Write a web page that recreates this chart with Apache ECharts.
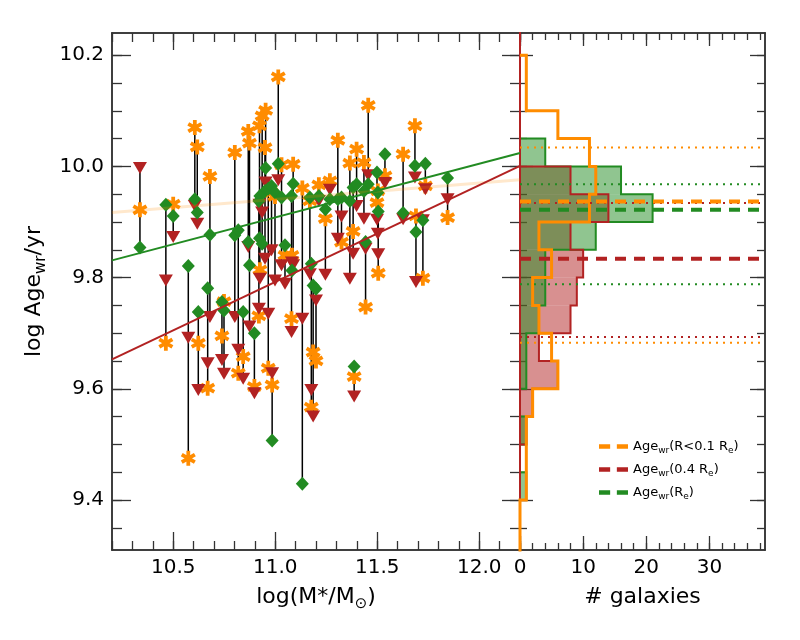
<!DOCTYPE html>
<html>
<head>
<meta charset="utf-8">
<script src="https://cdn.jsdelivr.net/npm/echarts@6/dist/echarts.min.js"></script>
<style>
  html, body { margin: 0; padding: 0; background: #fff; }
  #chart { width: 800px; height: 640px; }
</style>
</head>
<body>
<div id="chart"></div>
<script>
// one entry per galaxy: log stellar mass and light-weighted ages at three radii
const logMass = [10.337, 10.464, 10.500, 10.574, 10.606, 10.618, 10.623, 10.680, 10.669, 10.739,
  10.749, 10.802, 10.819, 10.843, 10.868, 10.874, 10.898, 10.923, 10.936, 10.953,
  10.950, 10.925, 10.920, 10.966, 10.985, 11.015, 10.982, 10.999, 11.031, 11.048,
  11.088, 11.082, 11.080, 11.133, 11.170, 11.177, 11.186, 11.200, 11.214, 11.246,
  11.268, 11.307, 11.325, 11.387, 11.382, 11.399, 11.366, 11.456, 11.435, 11.443,
  11.499, 11.505, 11.503, 11.538, 11.627, 11.685, 11.736, 11.690, 11.724, 11.845]
const ageCore = [9.922, 9.682, 9.932, 9.475, 10.070, 10.035, 9.682, 9.982, 9.601, 9.695,
  9.757, 10.025, 9.628, 9.658, 10.063, 10.042, 9.604, 10.073, 10.091, 10.101,
  10.034, 9.814, 9.731, 9.637, 9.607, 10.161, 9.953, 9.946, 10.003, 9.840,
  10.004, 9.840, 9.726, 9.961, 9.938, 9.567, 9.666, 9.650, 9.967, 9.906,
  9.974, 10.047, 9.864, 9.622, 9.883, 10.031, 10.006, 10.110, 10.007, 9.747,
  9.935, 9.808, 9.956, 9.983, 10.022, 10.073, 9.965, 9.911, 9.799, 9.908]
const ageMid = [9.997, 9.795, 9.873, 9.692, 9.929, 9.897, 9.598, 9.729, 9.646, 9.652,
  9.627, 9.729, 9.670, 9.618, 9.855, 9.712, 9.592, 9.931, 9.917, 9.971,
  9.834, 9.798, 9.744, 9.735, 9.628, 9.975, 9.849, 9.795, 9.822, 9.789,
  9.822, 9.827, 9.702, 9.726, 9.806, 9.598, 9.550, 9.759, 9.938, 9.805,
  9.958, 9.870, 9.910, 9.586, 9.843, 9.929, 9.798, 9.984, 9.906, 9.852,
  9.904, 9.842, 9.879, 9.970, 9.905, 9.980, 9.959, 9.792, 9.903, 9.941]
const ageRe = [9.854, 9.931, 9.911, 9.821, 9.941, 9.917, 9.738, 9.877, 9.781, 9.756,
  9.741, 9.876, 9.885, 9.738, 9.864, 9.822, 9.700, 9.871, 9.861, 9.997,
  9.956, 9.947, 9.938, 9.960, 9.507, 10.005, 9.965, 9.953, 9.944, 9.858,
  9.969, 9.813, 9.947, 9.429, 9.944, 9.825, 9.786, 9.780, 9.947, 9.923,
  9.941, 9.941, 9.944, 9.640, 9.962, 9.968, 9.938, 9.968, 9.956, 9.864,
  9.989, 9.919, 9.953, 10.022, 9.916, 10.001, 10.005, 9.882, 9.903, 9.979]

// linear fits, evaluated at the panel edges
const fitMass = [10.2, 12.2]
const fitCore = [9.917, 9.976]
const fitMid = [9.653, 10.001]
const fitRe = [9.831, 10.024]

// histograms (bin lower edges, width 0.05)
const BIN = 0.05
const binLow = [9.30, 9.35, 9.40, 9.45, 9.50, 9.55, 9.60, 9.65, 9.70, 9.75,
  9.80, 9.85, 9.90, 9.95, 10.00, 10.05, 10.10, 10.15, 10.20]
const histCore = [0, 0, 1, 1, 1, 2, 6, 5, 3, 2, 5, 3, 11, 12, 11, 6, 1, 1, 0]
const histMid = [0, 0, 0, 0, 1, 2, 6, 3, 8, 9, 10, 8, 14, 8, 0, 0, 0, 0, 0]
const histRe = [0, 0, 1, 0, 1, 0, 1, 1, 3, 4, 4, 12, 21, 16, 4, 0, 0, 0, 0]

// mean and spread marks
const meanCore = 9.937
const meanMid = 9.834
const meanRe = 9.922
const spreadCore = [9.683, 10.034]
const spreadMid = [9.693, 9.934]
const spreadRe = [9.788, 9.968]

// axes
const massRange = [10.2, 12.2]
const ageRange = [9.31, 10.24]
const countRange = [0, 38.8]
const massTicks = [10.5, 11.0, 11.5, 12.0]
const massMinor = [10.2, 10.3, 10.4, 10.5, 10.6, 10.7, 10.8, 10.9, 11.0, 11.1, 11.2,
  11.3, 11.4, 11.5, 11.6, 11.7, 11.8, 11.9, 12.0, 12.1, 12.2]
const ageTicks = [9.4, 9.6, 9.8, 10.0, 10.2]
const ageMinor = [9.35, 9.40, 9.45, 9.50, 9.55, 9.60, 9.65, 9.70, 9.75, 9.80,
  9.85, 9.90, 9.95, 10.00, 10.05, 10.10, 10.15, 10.20]
const countTicks = [0, 10, 20, 30]
const countMinor = [0, 2, 4, 6, 8, 10, 12, 14, 16, 18, 20, 22, 24, 26, 28, 30, 32, 34, 36, 38]

const ORANGE = '#ff8c00'
const RED = '#b22222'
const GREEN = '#228b22'
const INK = '#333'
const FONT = 'DejaVu Sans'

const ASTERISK = 'path://M7.5 0L12.5 0L12.5 20L7.5 20Z' +
  'M17.41 2.835L19.91 7.165L2.59 17.165L0.09 12.835Z' +
  'M0.09 7.165L2.59 2.835L19.91 12.835L17.41 17.165Z'

const subRich = {
  a: { fontSize: 22, fontFamily: FONT, color: '#000' },
  s: { fontSize: 15, fontFamily: FONT, color: '#000', padding: [14, 0, 0, 0] },
}

function frameAxis(grid, pos, range, ticks, len, extra) {
  return Object.assign({
    type: 'value', gridIndex: grid, position: pos, min: range[0], max: range[1],
    axisLine: { show: true, onZero: false, lineStyle: { color: INK, width: 1.5 } },
    axisTick: { show: true, inside: true, length: len, customValues: ticks, lineStyle: { color: INK, width: 1.3 } },
    axisLabel: { show: false },
    splitLine: { show: false },
  }, extra || {})
}

function tickLabels(ticks, fmt) {
  return {
    show: true, customValues: ticks, formatter: fmt, margin: 8,
    fontSize: 20, fontFamily: FONT, color: '#000',
  }
}

const fmt1 = v => v.toFixed(1)

// step outline; open outlines stop at the last filled bin
function stepOutline(counts, closed) {
  let last = counts.length - 1
  if (!closed) while (last > 0 && !counts[last]) last--
  const pts = [[0, binLow[0]]]
  for (let i = 0; i <= last; i++) {
    pts.push([counts[i], binLow[i]], [counts[i], binLow[i] + BIN])
  }
  pts.push([0, binLow[last] + BIN])
  if (closed) pts.push([0, binLow[0]])
  return pts
}

function histFill(counts, fill) {
  return {
    type: 'custom', xAxisIndex: 4, yAxisIndex: 4, z: 1, silent: true,
    data: binLow.map((lo, i) => [lo, lo + BIN, counts[i]]),
    encode: { x: 2, y: [0, 1] },
    renderItem(params, api) {
      if (!api.value(2)) return null
      const a = api.coord([0, api.value(1)])
      const b = api.coord([api.value(2), api.value(0)])
      return {
        type: 'rect',
        shape: { x: a[0], y: a[1], width: b[0] - a[0], height: b[1] - a[1] },
        style: { fill },
      }
    },
  }
}

function histEdge(counts, color, width, closed) {
  return {
    type: 'line', xAxisIndex: 4, yAxisIndex: 4, z: 2, silent: true,
    data: stepOutline(counts, closed), symbol: 'none',
    lineStyle: { color, width, join: 'miter' },
  }
}

function hLine(name, value, color, type, width, z) {
  return {
    name, type: 'line', xAxisIndex: 4, yAxisIndex: 4, z, silent: true,
    color,
    data: [[countRange[0], value], [countRange[1], value]],
    symbol: 'none',
    lineStyle: { color, type, width },
  }
}

function fitLine(ages, color, width, z) {
  return {
    type: 'line', xAxisIndex: 0, yAxisIndex: 0, z, silent: true,
    data: fitMass.map((m, i) => [m, ages[i]]),
    symbol: 'none',
    lineStyle: { color, width },
  }
}

function markers(ages, symbol, size, color, z, rotate) {
  return {
    type: 'scatter', xAxisIndex: 0, yAxisIndex: 0, z, silent: true,
    data: logMass.map((m, i) => [m, ages[i]]),
    symbol, symbolSize: size, symbolRotate: rotate || 0,
    itemStyle: { color, opacity: 1 },
  }
}

const DASH = [11, 8]
const DOT = [2, 5]

const legendLabel = {
  core: '{a|Age}{s|wr}{a|(R<0.1 R}{s|e}{a|)}',
  mid: '{a|Age}{s|wr}{a|(0.4 R}{s|e}{a|)}',
  re: '{a|Age}{s|wr}{a|(R}{s|e}{a|)}',
}

const chart = echarts.init(document.getElementById('chart'), null, { renderer: 'canvas' })

chart.setOption({
  animation: false,
  backgroundColor: '#fff',
  grid: [
    { left: 112, right: 280, top: 33, bottom: 90 },
    { left: 520, right: 35, top: 33, bottom: 90 },
  ],
  xAxis: [
    frameAxis(0, 'bottom', massRange, massTicks, 18, {
      axisLabel: tickLabels(massTicks, fmt1),
      name: '{a|log(M*/M}{s|⊙}{a|)}', nameLocation: 'middle', nameGap: 33,
      nameTextStyle: { rich: subRich },
    }),
    frameAxis(0, 'bottom', massRange, massMinor, 9),
    frameAxis(0, 'top', massRange, massTicks, 17),
    frameAxis(0, 'top', massRange, massMinor, 9),
    frameAxis(1, 'bottom', countRange, countTicks, 14, {
      axisLabel: tickLabels(countTicks, v => String(v)),
      name: '# galaxies', nameLocation: 'middle', nameGap: 36,
      nameTextStyle: { fontSize: 22, fontFamily: FONT, color: '#000' },
    }),
    frameAxis(1, 'bottom', countRange, countMinor, 7),
    frameAxis(1, 'top', countRange, countTicks, 13),
    frameAxis(1, 'top', countRange, countMinor, 7),
  ],
  yAxis: [
    frameAxis(0, 'left', ageRange, ageTicks, 19, {
      axisLabel: tickLabels(ageTicks, fmt1),
      name: '{a|log Age}{s|wr}{a|/yr}', nameLocation: 'middle', nameGap: 56, nameRotate: 90,
      nameTextStyle: { rich: subRich },
    }),
    frameAxis(0, 'left', ageRange, ageMinor, 10),
    frameAxis(0, 'right', ageRange, ageTicks, 18),
    frameAxis(0, 'right', ageRange, ageMinor, 10),
    frameAxis(1, 'left', ageRange, ageTicks, 13, { axisLine: { show: true, onZero: false, lineStyle: { color: '#8b1a1a', width: 1.5 } } }),
    frameAxis(1, 'left', ageRange, ageMinor, 7),
    frameAxis(1, 'right', ageRange, ageTicks, 15),
    frameAxis(1, 'right', ageRange, ageMinor, 8),
  ],
  legend: {
    left: 594, top: 435, orient: 'vertical', itemGap: 8,
    itemWidth: 29, itemHeight: 5,
    icon: 'path://M0 0H10V4H0Z M16 0H26V4H16Z',
    data: ['core', 'mid', 're'],
    formatter: name => legendLabel[name],
    textStyle: {
      fontSize: 13, fontFamily: FONT, color: '#000',
      rich: {
        a: { fontSize: 13, fontFamily: FONT, color: '#000' },
        s: { fontSize: 9, fontFamily: FONT, color: '#000', padding: [8, 0, 0, 0] },
      },
    },
    selectedMode: false,
  },
  series: [
    // vertical connectors spanning each galaxy's three ages
    {
      type: 'custom', xAxisIndex: 0, yAxisIndex: 0, z: 2, silent: true,
      data: logMass.map((m, i) => [m,
        Math.min(ageCore[i], ageMid[i], ageRe[i]),
        Math.max(ageCore[i], ageMid[i], ageRe[i])]),
      encode: { x: 0, y: [1, 2] },
      renderItem(params, api) {
        const a = api.coord([api.value(0), api.value(1)])
        const b = api.coord([api.value(0), api.value(2)])
        return {
          type: 'line',
          shape: { x1: a[0], y1: a[1], x2: b[0], y2: b[1] },
          style: { stroke: '#000', lineWidth: 1.5 },
        }
      },
    },
    markers(ageCore, ASTERISK, 15, ORANGE, 3),
    markers(ageMid, 'triangle', [14, 12], RED, 4, 180),
    markers(ageRe, 'diamond', [13, 14], GREEN, 5),
    fitLine(fitCore, 'rgba(255,140,0,0.2)', 3, 6),
    fitLine(fitRe, GREEN, 2, 7),
    fitLine(fitMid, RED, 2, 7),

    // histograms
    histFill(histMid, 'rgba(178,34,34,0.5)'),
    histFill(histRe, 'rgba(34,139,34,0.5)'),
    histEdge(histRe, GREEN, 2, true),
    histEdge(histMid, RED, 2, true),
    histEdge(histCore, ORANGE, 3, false),

    hLine(null, spreadMid[0], RED, DOT, 2, 3),
    hLine(null, spreadMid[1], RED, DOT, 2, 3),
    hLine('mid', meanMid, RED, DASH, 4, 4),
    hLine(null, spreadRe[0], GREEN, DOT, 2, 3),
    hLine(null, spreadRe[1], GREEN, DOT, 2, 3),
    hLine('re', meanRe, GREEN, DASH, 4, 4),
    hLine(null, spreadCore[0], ORANGE, DOT, 2, 3),
    hLine(null, spreadCore[1], ORANGE, DOT, 2, 3),
    hLine('core', meanCore, ORANGE, DASH, 4, 5),
  ],
})
</script>
</body>
</html>
